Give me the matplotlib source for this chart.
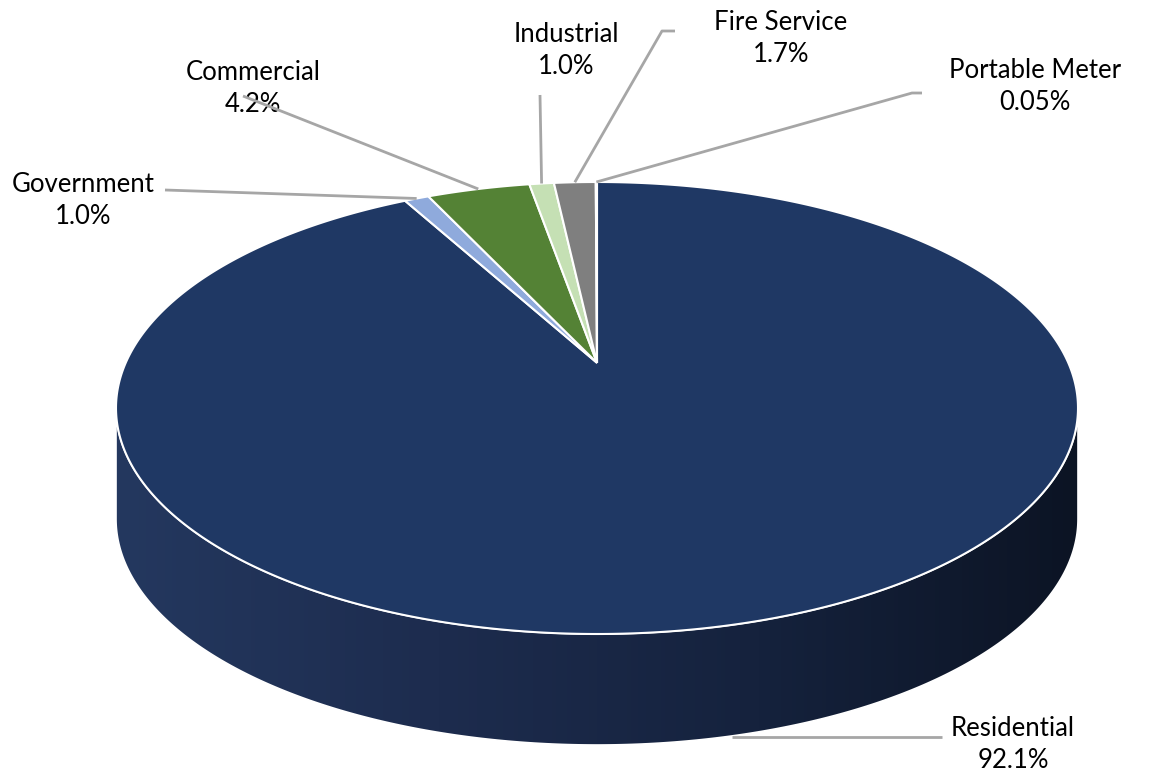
import numpy as np
import matplotlib
matplotlib.use("Agg")
import matplotlib.pyplot as plt
from matplotlib.patches import Polygon
from matplotlib.colors import LinearSegmentedColormap

# slice data, clockwise from 12 o'clock
labels = ["Residential", "Government", "Commercial", "Industrial",
          "Fire Service", "Portable Meter"]
values = [92.1, 1.0, 4.2, 1.0, 1.7, 0.05]
pct_text = ["92.1%", "1.0%", "4.2%", "1.0%", "1.7%", "0.05%"]
colors = ["#1f3864", "#8faadc", "#548235", "#c5e0b4", "#7f7f7f", "#a9bbe0"]

# label text centres (pixel space) and leader elbow points
label_pos = [(1013, 745), (83, 201), (253, 89), (566, 51), (781, 38), (1035, 87)]
elbows = [[(942, 737)], [(165, 190)], [(243, 96)], [(540, 95)],
          [(675, 31), (662, 31)], [(922, 93), (912, 93)]]

W, H = 1159, 776
# ellipse centre, semi-axes, side depth, perspective factor
cx, cy, a, b, depth, k = 597, 408, 481, 226, 111, 0.2
s = b * (1 - k ** 2)
h = a * np.sqrt(1 - k ** 2)
apex_y = cy - k * b

fig = plt.figure(figsize=(W / 100, H / 100), dpi=100)
ax = fig.add_axes([0, 0, 1, 1])
ax.set_xlim(0, W)
ax.set_ylim(H, 0)
ax.axis("off")


def pt(t):
    t = np.radians(t)
    d = 1 + k * np.sin(t)
    return cx + h * np.cos(t) / d, apex_y - s * np.sin(t) / d


# side wall (front half, all residential)
t0 = 180 + np.degrees(np.arcsin(k))
ts = np.linspace(t0, 540 - t0, 300)
top = np.array([pt(t) for t in ts])
bot = top[::-1] + [0, depth]
side = np.vstack([top, bot])
side_patch = Polygon(side, closed=True, facecolor="none",
                     edgecolor="white", lw=1.2, zorder=2)
ax.add_patch(side_patch)
cmap = LinearSegmentedColormap.from_list(
    "side", ["#24385f", "#1d2c4e", "#15223d", "#0c1424"])
grad = np.linspace(0, 1, 256).reshape(1, -1)
im = ax.imshow(grad, cmap=cmap, aspect="auto",
               extent=[cx - a, cx + a, cy + b + depth, cy], zorder=1)
im.set_clip_path(side_patch)

# top face wedges
fracs = np.array(values) / sum(values) * 360
start = 90.0
mids = []
for v, c in zip(fracs, colors):
    ang = np.linspace(start, start - v, max(int(v * 2), 3))
    poly = [(cx, apex_y)] + [pt(t) for t in ang]
    ax.add_patch(Polygon(poly, closed=True, facecolor=c,
                         edgecolor="white", lw=1.5, zorder=3))
    mids.append(start - v / 2)
    start -= v

# leader lines and labels
for i, (lab, pc) in enumerate(zip(labels, pct_text)):
    if i == 0:
        p0 = (cx + 0.28 * a, cy + b + depth - 8)
    else:
        p0 = pt(mids[i])
    xs = [p0[0]] + [e[0] for e in elbows[i][::-1]]
    ys = [p0[1]] + [e[1] for e in elbows[i][::-1]]
    ax.plot(xs, ys, color="#a6a6a6", lw=2, zorder=4, solid_capstyle="butt")
    lx, ly = label_pos[i]
    ax.text(lx, ly, lab + "\n" + pc, ha="center", va="center",
            fontsize=18.5, family="Lato", color="black", linespacing=1.35)

fig.savefig("out.png", dpi=100)
